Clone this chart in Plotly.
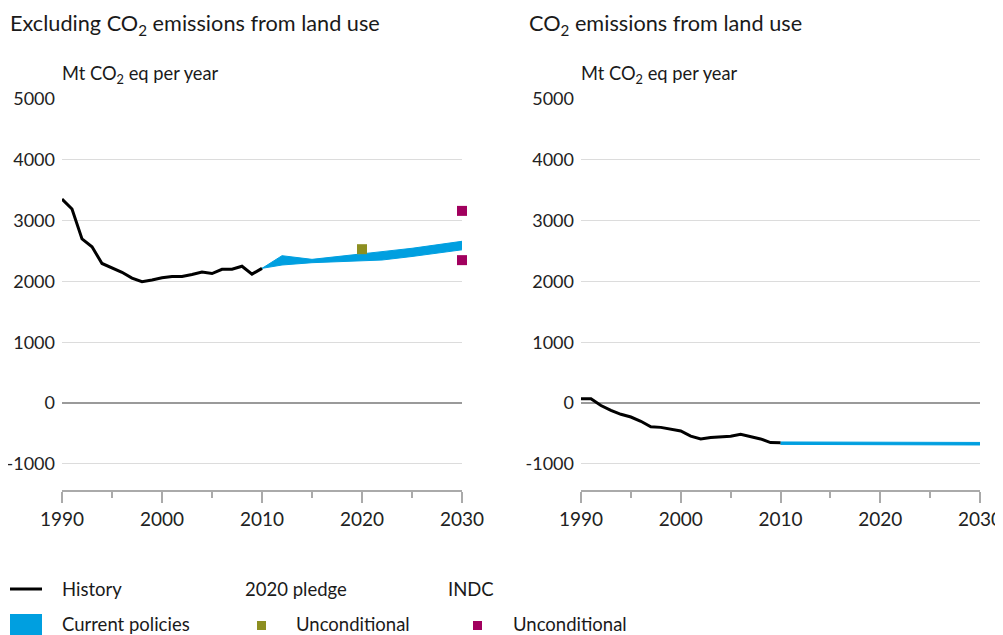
import plotly.graph_objects as go

# ---------------- data ----------------
hist_years = list(range(1990, 2011))
hist_excl = [3355, 3190, 2700, 2570, 2295, 2220, 2150, 2055, 1995, 2025, 2060,
             2080, 2080, 2115, 2155, 2130, 2200, 2200, 2250, 2120, 2215]
hist_lu = [70, 70, -40, -120, -185, -230, -300, -390, -400, -430, -460,
           -545, -590, -565, -550, -545, -515, -555, -590, -650, -655]

cp_years = [2010, 2012, 2015, 2020, 2022, 2025, 2030]
cp_excl_low = [2215, 2270, 2308, 2340, 2352, 2410, 2520]
cp_excl_high = [2215, 2423, 2363, 2462, 2490, 2545, 2660]
cp_lu_low = [-680, -681, -683, -685, -686, -687, -690]
cp_lu_high = [-640, -641, -642, -644, -645, -646, -648]

pledge_year = [2020]
pledge_uncond = [2530]
indc_year = [2030, 2030]
indc_uncond = [3160, 2350]

y_ticks = [-1000, 0, 1000, 2000, 3000, 4000, 5000]
y_tick_labels = ["-1000", "0", "1000", "2000", "3000", "4000", "5000"]
x_ticks = [1990, 2000, 2010, 2020, 2030]
x_minor_ticks = [1995, 2005, 2015, 2025]

BLUE = "#009FE0"
OLIVE = "#8D8F21"
PURPLE = "#A1005E"
FONT = "Lato"

# page body has an 8px margin: the figure sits at (8, 8) in the window
OFF = 8
W, H = 1003 - OFF, 635 - OFF
def px(x):
    return (x - OFF) / W
def py(y):
    return 1 - (y - OFF) / H

fig = go.Figure()

# left panel
fig.add_trace(go.Scatter(x=cp_years, y=cp_excl_low, mode="lines",
                         line=dict(color=BLUE, width=1), xaxis="x", yaxis="y",
                         showlegend=False, hoverinfo="skip"))
fig.add_trace(go.Scatter(x=cp_years, y=cp_excl_high, mode="lines", fill="tonexty",
                         fillcolor=BLUE, line=dict(color=BLUE, width=1),
                         xaxis="x", yaxis="y", showlegend=False))
fig.add_trace(go.Scatter(x=hist_years, y=hist_excl, mode="lines",
                         line=dict(color="black", width=3), xaxis="x", yaxis="y",
                         showlegend=False, cliponaxis=False))
fig.add_trace(go.Scatter(x=pledge_year, y=pledge_uncond, mode="markers",
                         marker=dict(symbol="square", size=10, color=OLIVE),
                         xaxis="x", yaxis="y", showlegend=False, cliponaxis=False))
fig.add_trace(go.Scatter(x=indc_year, y=indc_uncond, mode="markers",
                         marker=dict(symbol="square", size=10, color=PURPLE),
                         xaxis="x", yaxis="y", showlegend=False, cliponaxis=False))

# right panel
fig.add_trace(go.Scatter(x=cp_years, y=cp_lu_low, mode="lines",
                         line=dict(color=BLUE, width=1), xaxis="x2", yaxis="y2",
                         showlegend=False, hoverinfo="skip"))
fig.add_trace(go.Scatter(x=cp_years, y=cp_lu_high, mode="lines", fill="tonexty",
                         fillcolor=BLUE, line=dict(color=BLUE, width=1),
                         xaxis="x2", yaxis="y2", showlegend=False))
fig.add_trace(go.Scatter(x=hist_years, y=hist_lu, mode="lines",
                         line=dict(color="black", width=3), xaxis="x2", yaxis="y2",
                         showlegend=False, cliponaxis=False))

ydom = [py(490), py(99)]
yax = dict(range=[-1430, 5000], tickvals=y_ticks, ticktext=y_tick_labels,
           showgrid=True, gridcolor="#DCDCDC",
           gridwidth=1, zeroline=True, zerolinecolor="#9A9A9A", zerolinewidth=1.5,
           showline=False, ticks="", ticklabelstandoff=6, automargin=False,
           tickfont=dict(family=FONT, size=18, color="#222"), domain=ydom)
xax = dict(range=[1990, 2030], tickvals=x_ticks, showgrid=False, zeroline=False,
           showline=True, linecolor="#AAAAAA", linewidth=1.5, ticks="outside",
           ticklen=11, tickcolor="#AAAAAA", tickwidth=1.5, automargin=False,
           minor=dict(tickvals=x_minor_ticks, ticks="outside", ticklen=6,
                      tickcolor="#AAAAAA", tickwidth=1.5),
           tickfont=dict(family=FONT, size=19, color="#222"))

fig.update_layout(
    width=W, height=H,
    margin=dict(l=0, r=0, t=0, b=0, pad=0),
    paper_bgcolor="white", plot_bgcolor="white",
    xaxis=dict(xax, domain=[px(62), px(462)], anchor="y"),
    yaxis=dict(yax, anchor="x"),
    xaxis2=dict(xax, domain=[px(581), px(980)], anchor="y2"),
    yaxis2=dict(yax, anchor="x2"),
    showlegend=False,
)

ann = []
def text(x, y, s, size, xanchor="left"):
    ann.append(dict(x=px(x), y=py(y), xref="paper", yref="paper", text=s,
                    showarrow=False, xanchor=xanchor, yanchor="middle",
                    font=dict(family=FONT, size=size, color="#1a1a1a")))

text(8, 25, "Excluding CO<sub>2</sub> emissions from land use", 21.7)
text(527, 25, "CO<sub>2</sub> emissions from land use", 21.7)
text(60, 74, "Mt CO<sub>2</sub> eq per year", 18.3)
text(579, 74, "Mt CO<sub>2</sub> eq per year", 18.3)

# legend
text(60, 589, "History", 18.5)
text(243, 589, "2020 pledge", 18.5)
text(446, 589, "INDC", 18.5)
text(60, 624, "Current policies", 18.5)
text(294, 624, "Unconditional", 18.5)
text(511, 624, "Unconditional", 18.5)

shapes = [
    dict(type="line", xref="paper", yref="paper", x0=px(10), x1=px(42),
         y0=py(589), y1=py(589), line=dict(color="black", width=3)),
    dict(type="rect", xref="paper", yref="paper", x0=px(10), x1=px(42),
         y0=py(614), y1=py(640), fillcolor=BLUE, line=dict(width=0)),
    dict(type="rect", xref="paper", yref="paper", x0=px(257), x1=px(266),
         y0=py(621), y1=py(630), fillcolor=OLIVE, line=dict(width=0)),
    dict(type="rect", xref="paper", yref="paper", x0=px(473), x1=px(482),
         y0=py(621), y1=py(630), fillcolor=PURPLE, line=dict(width=0)),
]
fig.update_layout(annotations=ann, shapes=shapes)

fig.write_html("out.html")
